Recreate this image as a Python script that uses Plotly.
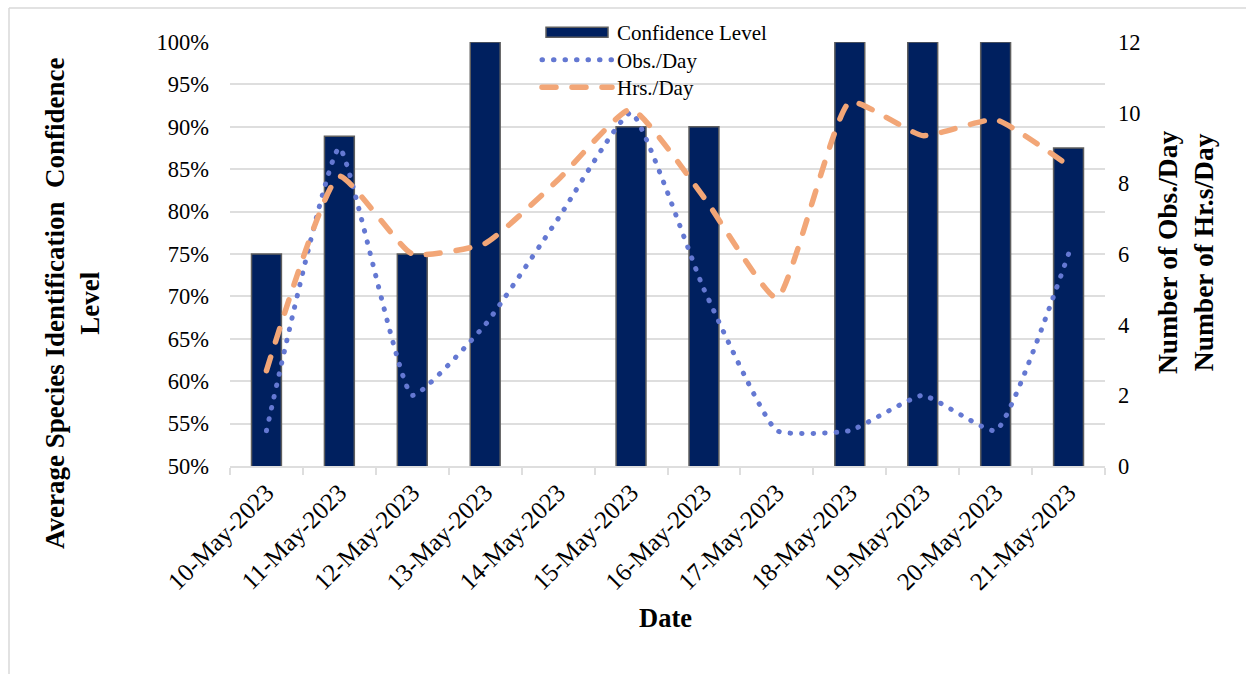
import plotly.graph_objects as go

# Daily survey data, 10–21 May 2023
dates = ["10-May-2023", "11-May-2023", "12-May-2023", "13-May-2023",
         "14-May-2023", "15-May-2023", "16-May-2023", "17-May-2023",
         "18-May-2023", "19-May-2023", "20-May-2023", "21-May-2023"]
confidence = [75, 88.9, 75, 100, None, 90, 90, None, 100, 100, 100, 87.5]
obs_per_day = [1, 9, 2, 4, 7, 10, 5, 1, 1, 2, 1, 6]
hrs_per_day = [2.7, 8.2, 6.0, 6.3, 8.1, 10.1, 7.6, 4.75, 10.3, 9.35, 9.8, 8.5]

left_ticks = list(range(50, 101, 5))
right_ticks = list(range(0, 13, 2))

FONT = "Liberation Serif, Times New Roman, serif"
GRID = "#dedede"

# plot area in pixels (used to place annotations / frame lines)
W, H = 1246, 674
L, R, T, B = 230, 1105, 42, 466


def px_x(x):
    return (x - L) / (R - L)


def px_y(y):
    return (B - y) / (B - T)


fig = go.Figure()

fig.add_trace(go.Bar(
    x=dates, y=confidence, name="Confidence Level",
    marker=dict(color="#00205F", line=dict(color="#5f5f5f", width=1.5)),
    width=0.41, yaxis="y",
))
fig.add_trace(go.Scatter(
    x=dates, y=obs_per_day, name="Obs./Day", mode="lines",
    line=dict(color="#6478D2", width=5, dash="0.5px,11px",
              shape="spline", smoothing=0.4),
    yaxis="y2",
))
fig.add_trace(go.Scatter(
    x=dates, y=hrs_per_day, name="Hrs./Day", mode="lines",
    line=dict(color="#F2A677", width=5.5, dash="14px,16px",
              shape="spline", smoothing=0.45),
    yaxis="y2",
))

fig.update_layout(
    width=W, height=H,
    margin=dict(l=L, r=W - R, t=T, b=H - B),
    paper_bgcolor="white", plot_bgcolor="white",
    font=dict(family=FONT, size=22, color="#000000"),
    showlegend=True,
    legend=dict(
        x=px_x(537), y=px_y(12), xanchor="left", yanchor="top",
        bgcolor="rgba(0,0,0,0)", font=dict(family=FONT, size=21),
        tracegroupgap=0, itemwidth=70,
    ),
    xaxis=dict(
        type="category", tickangle=-45, showgrid=False,
        showline=True, linecolor=GRID, linewidth=2,
        ticks="outside", tickson="boundaries", ticklen=7,
        tickcolor=GRID, tickwidth=2,
        tickfont=dict(family=FONT, size=25),
        range=[-0.5, 11.5],
    ),
    yaxis=dict(
        range=[50, 100], tickvals=left_ticks,
        ticktext=[f"{v}%" for v in left_ticks],
        showgrid=True, gridcolor=GRID, gridwidth=2,
        zeroline=False, showline=False, ticks="",
        ticklabelstandoff=20,
        tickfont=dict(family=FONT, size=22.5),
    ),
    yaxis2=dict(
        range=[0, 12], tickvals=right_ticks, overlaying="y", side="right",
        showgrid=False, zeroline=False, showline=False, ticks="",
        ticklabelstandoff=12,
        tickfont=dict(family=FONT, size=22.5),
    ),
    annotations=[
        dict(text="<b>Average Species Identification \u00a0Confidence<br>Level</b>",
             x=px_x(72), y=px_y(304), xref="paper", yref="paper",
             textangle=-90, showarrow=False, xanchor="center", yanchor="middle",
             font=dict(family=FONT, size=27)),
        dict(text="<b>Number of Obs./Day<br>Number of Hr.s/Day</b>",
             x=px_x(1185), y=px_y(253), xref="paper", yref="paper",
             textangle=-90, showarrow=False, xanchor="center", yanchor="middle",
             font=dict(family=FONT, size=27.5)),
        dict(text="<b>Date</b>", x=px_x(665), y=px_y(618),
             xref="paper", yref="paper", showarrow=False,
             xanchor="center", yanchor="middle",
             font=dict(family=FONT, size=26.5)),
    ],
    shapes=[
        dict(type="line", xref="paper", yref="paper",
             x0=px_x(9), x1=px_x(W), y0=px_y(8), y1=px_y(8),
             line=dict(color="#d9d9d9", width=1.5)),
        dict(type="line", xref="paper", yref="paper",
             x0=px_x(9), x1=px_x(9), y0=px_y(8), y1=px_y(H),
             line=dict(color="#d9d9d9", width=1.5)),
    ],
)

# Small SVG touches after drawing: rounded caps for the dotted / dashed
# series, a wide bar swatch in the legend and tighter legend rows.
svg_tweaks = """
var gd = document.getElementById('{plot_id}');
function svgTweaks() {
  gd.querySelectorAll('path.js-line').forEach(function (p) {
    p.style.strokeLinecap = 'round';
  });
  var items = gd.querySelectorAll('.legend .traces');
  if (!items.length) { return; }
  var re = /translate\\(\\s*([-\\d.]+)[ ,]+([-\\d.]+)\\s*\\)/;
  var m0 = re.exec(items[0].getAttribute('transform') || '');
  if (m0) {
    var x0 = parseFloat(m0[1]), y0 = parseFloat(m0[2]);
    items.forEach(function (g, i) {
      g.setAttribute('transform', 'translate(' + x0 + ',' + (y0 + i * 27.5) + ')');
    });
  }
  items[0].querySelectorAll('.legendpoints path').forEach(function (p) {
    p.setAttribute('d', 'M-31,5H31V-5H-31Z');
  });
}
svgTweaks();
gd.on('plotly_afterplot', svgTweaks);
"""

fig.write_html("out.html", post_script=svg_tweaks)
